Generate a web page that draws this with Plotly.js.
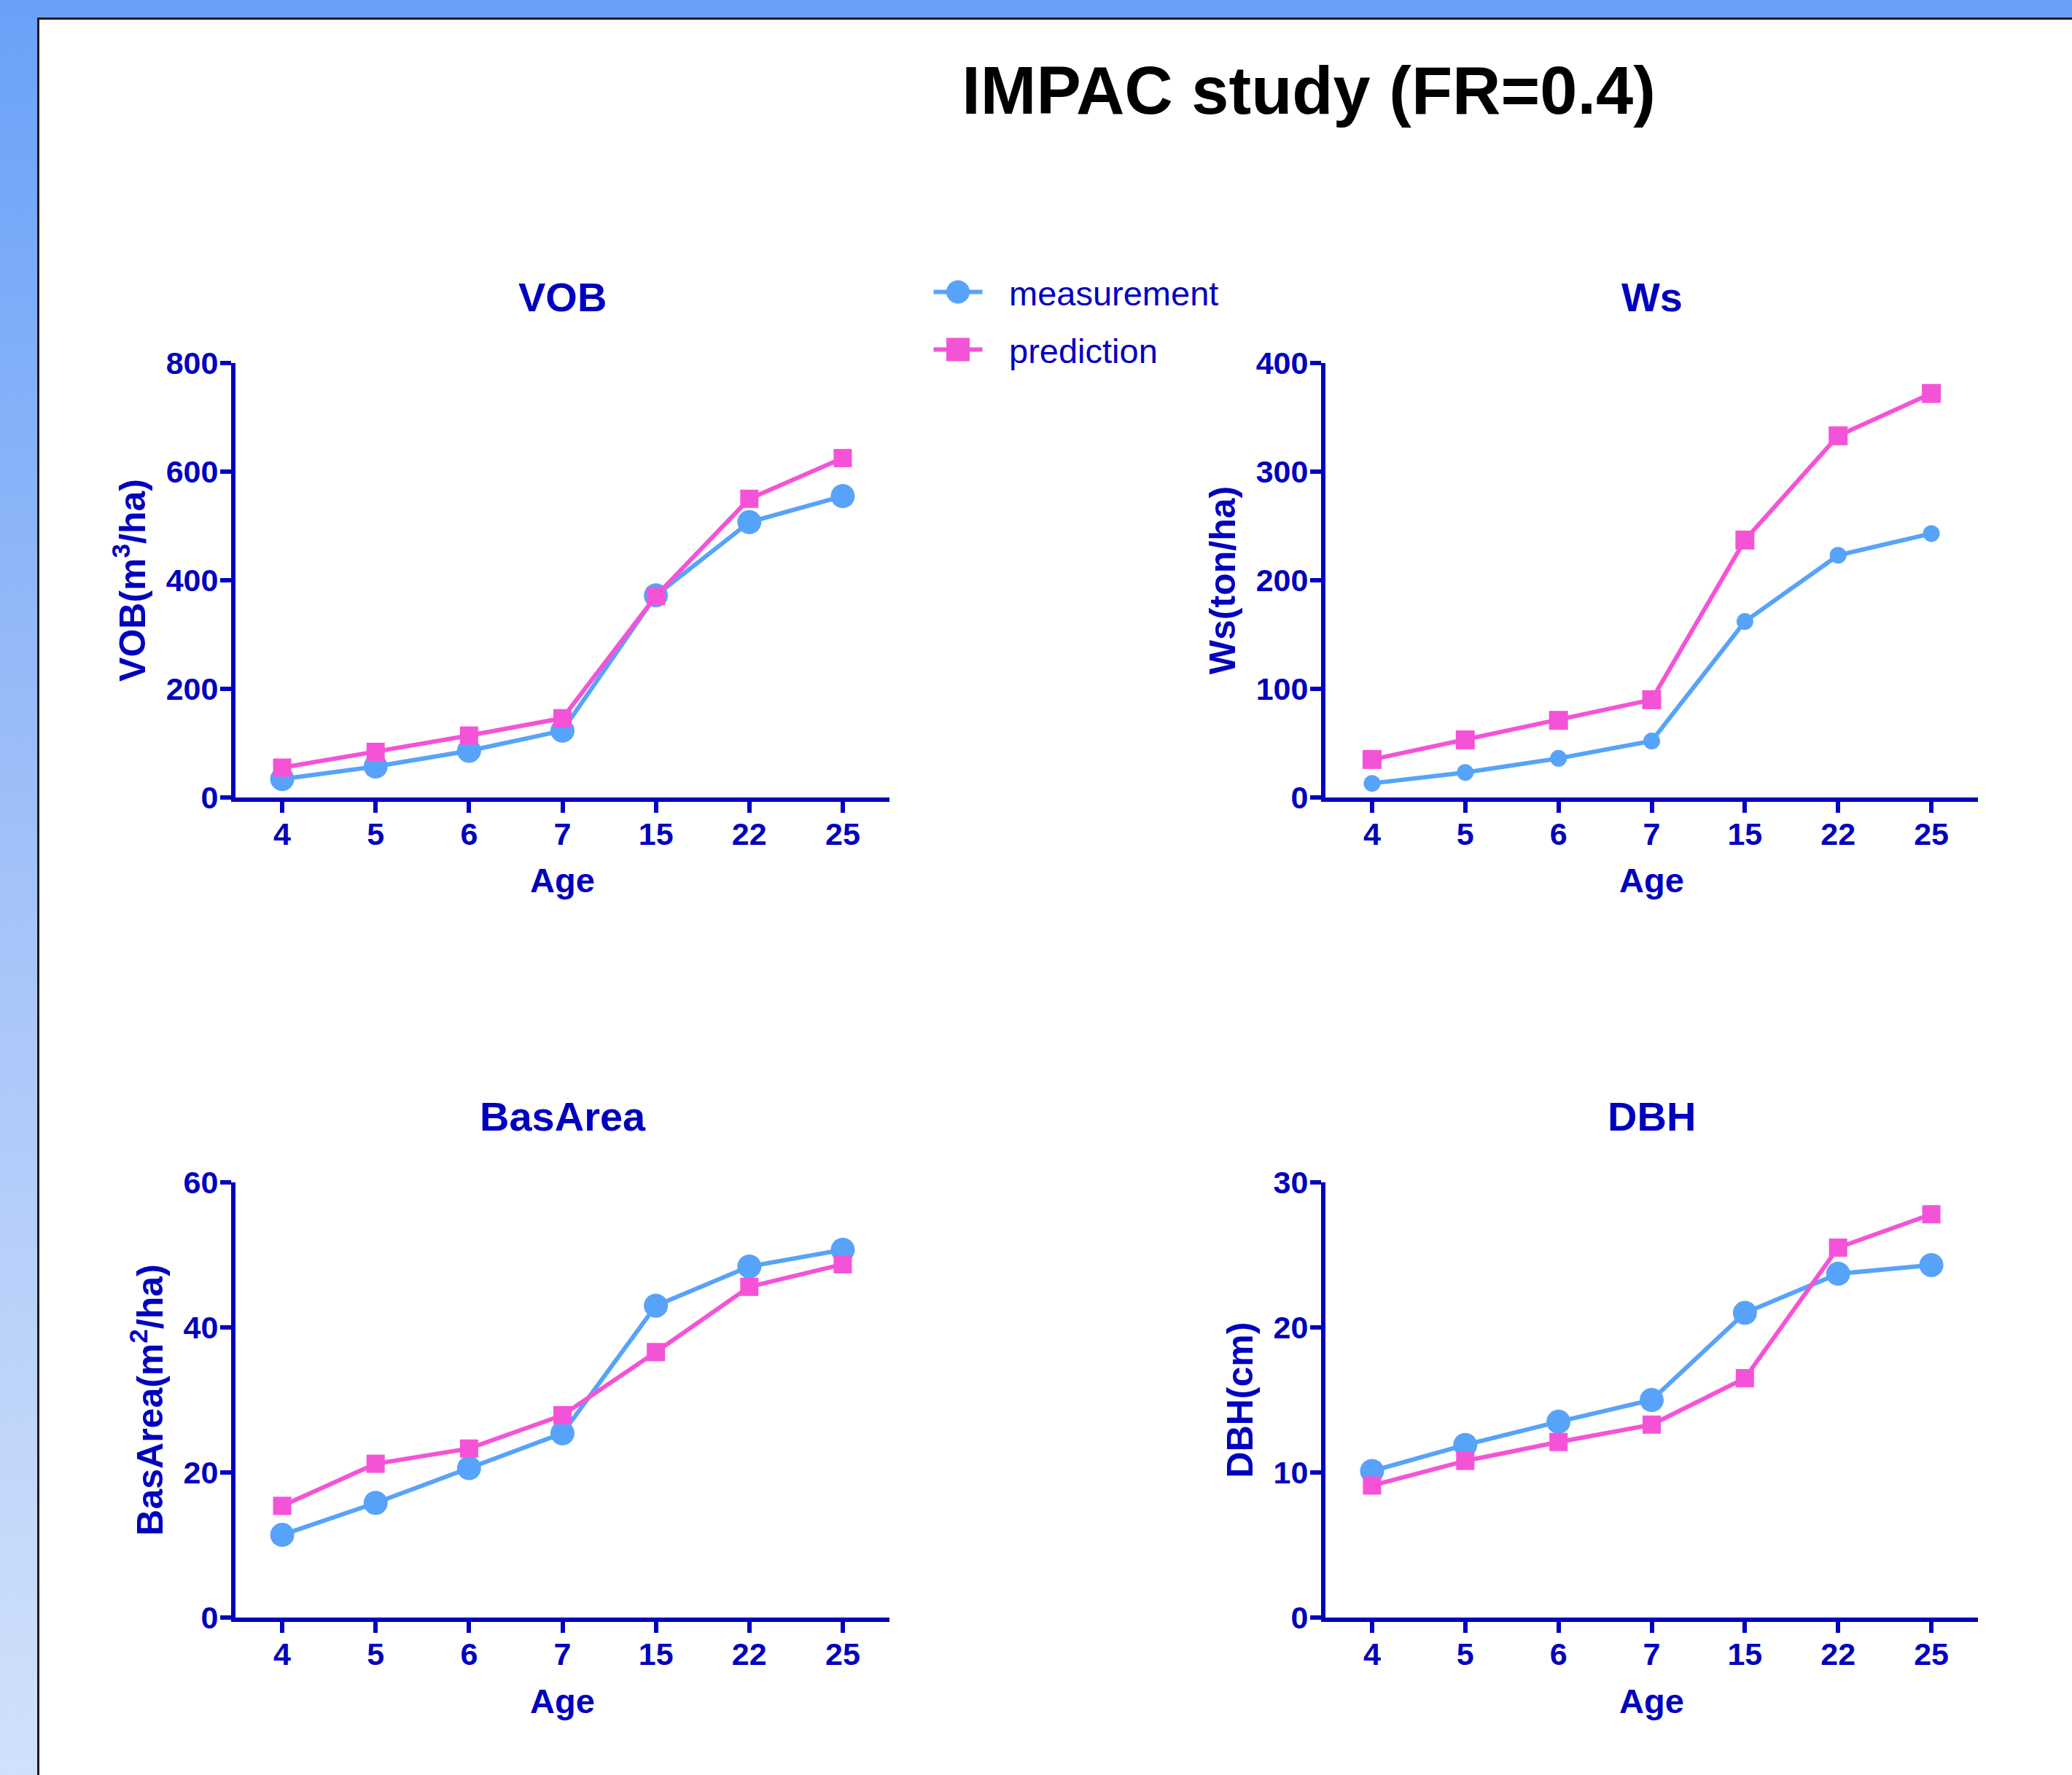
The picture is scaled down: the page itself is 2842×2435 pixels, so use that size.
<!DOCTYPE html>
<html>
<head>
<meta charset="utf-8">
<script src="https://cdn.plot.ly/plotly-3.0.1.min.js"></script>
<style>
  html, body { margin: 0; padding: 0; }
  body { width: 2842px; height: 2435px; background: linear-gradient(to bottom, #6aa1f8 0%, #a9c6f9 55%, #d2e1fb 100%); overflow: hidden; }
  #chart { width: 2842px; height: 2435px; }
</style>
</head>
<body>
<div id="chart"></div>
<script>
// ---------------- data ----------------
const ages = ['4', '5', '6', '7', '15', '22', '25'];
const seriesNames = ['measurement', 'prediction'];

const vobMeasurement = [34, 57, 86, 123, 372, 507, 555];
const vobPrediction  = [55, 84, 114, 146, 371, 550, 625];

const wsMeasurement = [13, 23, 36, 52, 162, 223, 243];
const wsPrediction  = [35, 53, 71, 90, 237, 333, 372];

const basAreaMeasurement = [11.4, 15.8, 20.6, 25.4, 43.0, 48.4, 50.7];
const basAreaPrediction  = [15.4, 21.2, 23.3, 27.9, 36.6, 45.6, 48.7];

const dbhMeasurement = [10.1, 11.9, 13.5, 15.0, 21.0, 23.7, 24.3];
const dbhPrediction  = [9.1, 10.8, 12.1, 13.3, 16.5, 25.5, 27.8];

const panelTitles = ['VOB', 'Ws', 'BasArea', 'DBH'];
const yTitles = ['VOB(m<sup>3</sup>/ha)', 'Ws(ton/ha)', 'BasArea(m<sup>2</sup>/ha)', 'DBH(cm)'];
const yRanges = [[0, 800], [0, 400], [0, 60], [0, 30]];
const yDticks = [200, 100, 20, 10];
const xTitle = 'Age';
const mainTitle = 'IMPAC study (FR=0.4)';

// ---------------- style ----------------
const W = 2842, H = 2435;
const FONT = '"Liberation Sans", Arial, sans-serif';
const NAVY = '#0000bf';
const BLUE = '#57a3f9';
const PINK = '#f553d7';

const px = v => v / W;
const py = v => 1 - v / H;

// panel pixel boxes [left, right, top, bottom]
const boxes = [
  [323, 1220, 498, 1094],
  [1818, 2713, 498, 1094],
  [323, 1220, 1622, 2219],
  [1818, 2713, 1622, 2219]
];
const circleSizes = [33, 23, 33, 33];
const squareSizes = [25, 26, 25, 25];

const seriesData = [
  [vobMeasurement, vobPrediction],
  [wsMeasurement, wsPrediction],
  [basAreaMeasurement, basAreaPrediction],
  [dbhMeasurement, dbhPrediction]
];

const traces = [];
const legendCommon = {
  xanchor: 'left', yanchor: 'middle',
  bgcolor: 'rgba(0,0,0,0)', borderwidth: 0,
  font: {family: FONT, size: 47, color: NAVY},
  itemwidth: 130, itemsizing: 'trace'
};
const layout = {
  width: W, height: H,
  margin: {l: 0, r: 0, t: 0, b: 0, pad: 0, autoexpand: false},
  paper_bgcolor: 'rgba(0,0,0,0)',
  plot_bgcolor: 'rgba(0,0,0,0)',
  font: {family: FONT, color: NAVY},
  title: {
    text: mainTitle,
    x: px(1795), xanchor: 'center',
    y: py(124), yanchor: 'middle',
    font: {family: FONT, size: 92, color: '#000000', weight: 'bold'}
  },
  showlegend: true,
  legend: Object.assign({x: px(1244), y: py(401)}, legendCommon),
  legend2: Object.assign({x: px(1244), y: py(480)}, legendCommon),
  shapes: [{
    type: 'rect', xref: 'paper', yref: 'paper', layer: 'below',
    x0: px(52.5), x1: 1.02, y0: -0.02, y1: py(25.5),
    fillcolor: '#ffffff', line: {color: '#1c1c1c', width: 3}
  }],
  annotations: []
};

seriesData.forEach((pair, i) => {
  const n = i + 1;
  const xa = 'xaxis' + (n === 1 ? '' : n);
  const ya = 'yaxis' + (n === 1 ? '' : n);
  const xr = 'x' + (n === 1 ? '' : n);
  const yr = 'y' + (n === 1 ? '' : n);
  const b = boxes[i];

  traces.push({
    type: 'scatter', mode: 'lines+markers', name: seriesNames[0],
    x: ages, y: pair[0], xaxis: xr, yaxis: yr,
    showlegend: i === 0, legend: 'legend',
    line: {color: BLUE, width: 6},
    marker: {symbol: 'circle', size: circleSizes[i], color: BLUE},
    cliponaxis: false
  });
  traces.push({
    type: 'scatter', mode: 'lines+markers', name: seriesNames[1],
    x: ages, y: pair[1], xaxis: xr, yaxis: yr,
    showlegend: i === 0, legend: 'legend2',
    line: {color: PINK, width: 6},
    marker: {symbol: 'square', size: squareSizes[i], color: PINK},
    cliponaxis: false
  });

  layout[xa] = {
    domain: [px(b[0]), px(b[1])],
    anchor: yr,
    type: 'category',
    categoryorder: 'array', categoryarray: ages,
    range: [-0.5, 6.5],
    showgrid: false, zeroline: false,
    showline: true, linecolor: NAVY, linewidth: 6,
    ticks: 'outside', ticklen: 15, tickwidth: 6, tickcolor: NAVY,
    ticklabelstandoff: -8,
    tickfont: {family: FONT, size: 43, color: NAVY, weight: 'bold'},
    title: {text: xTitle, standoff: 27, font: {family: FONT, size: 47, color: NAVY, weight: 'bold'}},
    automargin: true,
    fixedrange: true
  };
  layout[ya] = {
    domain: [py(b[3]), py(b[2])],
    anchor: xr,
    range: yRanges[i], dtick: yDticks[i], tick0: 0,
    showgrid: false, zeroline: false,
    showline: true, linecolor: NAVY, linewidth: 6,
    ticks: 'outside', ticklen: 15, tickwidth: 6, tickcolor: NAVY,
    ticklabelstandoff: -6,
    tickfont: {family: FONT, size: 43, color: NAVY, weight: 'bold'},
    title: {text: yTitles[i], standoff: 14, font: {family: FONT, size: 50, color: NAVY, weight: 'bold'}},
    automargin: true,
    fixedrange: true
  };

  layout.annotations.push({
    text: panelTitles[i], showarrow: false,
    xref: 'paper', yref: 'paper',
    x: px((b[0] + b[1]) / 2), xanchor: 'center',
    y: py(b[2] - 91), yanchor: 'middle',
    font: {family: FONT, size: 56, color: NAVY, weight: 'bold'}
  });
});

Plotly.newPlot('chart', traces, layout, {staticPlot: true, displayModeBar: false}).then(gd => {
  // enlarge legend symbols to match the reference's legend glyphs
  document.querySelectorAll('.infolayer g.traces').forEach(tr => {
    const pts = tr.querySelector('path.scatterpts');
    const line = tr.querySelector('path.js-line');
    let cx = 70;
    if (pts) {
      const t = pts.getAttribute('transform') || '';
      const m = t.match(/translate\(([-\d.]+)/);
      if (m) cx = parseFloat(m[1]);
      pts.setAttribute('transform', 'translate(' + cx + ',0) scale(2)');
    }
    if (line) {
      line.setAttribute('d', 'M' + (cx - 33.5) + ',0h67');
    }
  });
});
</script>
</body>
</html>
